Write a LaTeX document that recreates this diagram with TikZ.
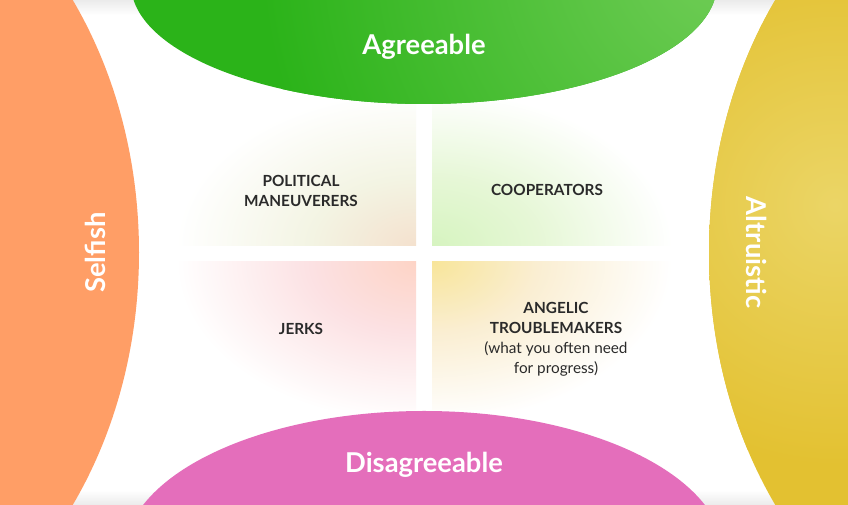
\documentclass[tikz,border=0pt]{standalone}
\usepackage{fontspec}
\setmainfont{Lato}
\definecolor{orangeC}{HTML}{FF9E66}
\definecolor{yellowD}{HTML}{E3C131}
\definecolor{yellowL}{HTML}{EBD566}
\definecolor{greenD}{HTML}{2BB319}
\definecolor{greenL}{HTML}{74CE5A}
\definecolor{pinkC}{HTML}{E46EBB}
\definecolor{edgegray}{HTML}{EBEBEB}
\definecolor{txt}{HTML}{2A2A2A}
\definecolor{tlA}{HTML}{F4E1CE}
\definecolor{tlB}{HTML}{F3F4E3}
\definecolor{trA}{HTML}{D6F4C0}
\definecolor{trB}{HTML}{E6F7D6}
\definecolor{blA}{HTML}{FDD4C6}
\definecolor{blB}{HTML}{FCE1E3}
\definecolor{brA}{HTML}{F8E59A}
\definecolor{brB}{HTML}{FAEED2}
\pgfdeclareradialshading{tlshade}{\pgfpoint{0bp}{0bp}}{color(0bp)=(tlA); color(11bp)=(tlB); color(25bp)=(white); color(50bp)=(white)}
\pgfdeclareradialshading{trshade}{\pgfpoint{0bp}{0bp}}{color(0bp)=(trA); color(11bp)=(trB); color(25bp)=(white); color(50bp)=(white)}
\pgfdeclareradialshading{blshade}{\pgfpoint{0bp}{0bp}}{color(0bp)=(blA); color(11bp)=(blB); color(25bp)=(white); color(50bp)=(white)}
\pgfdeclareradialshading{brshade}{\pgfpoint{0bp}{0bp}}{color(0bp)=(brA); color(11bp)=(brB); color(25bp)=(white); color(50bp)=(white)}
\tikzset{
  biglabel/.style={text=white, font=\bfseries\fontsize{20.5}{24}\selectfont, inner sep=0pt},
  qlabel/.style={text=txt, font=\bfseries\fontsize{11.5}{15}\selectfont, align=center, inner sep=0pt},
}
\begin{document}
\begin{tikzpicture}[x=0.75pt,y=0.75pt]
\useasboundingbox (0,0) rectangle (848,505);
\clip (0,0) rectangle (848,505);
\fill[white] (0,0) rectangle (848,505);
\shade[top color=edgegray, bottom color=white] (0,490) rectangle (848,505);
\shade[top color=white, bottom color=edgegray] (0,0) rectangle (848,15);
% quadrants
\begin{scope}
\clip (170,259) rectangle (416,405);
\shade[shading=tlshade] (416,259) ellipse [x radius=240, y radius=155];
\end{scope}
\begin{scope}
\clip (432,259) rectangle (680,405);
\shade[shading=trshade] (432,259) ellipse [x radius=240, y radius=155];
\end{scope}
\begin{scope}
\clip (170,95) rectangle (416,243);
\shade[shading=blshade] (416,243) ellipse [x radius=240, y radius=160];
\end{scope}
\begin{scope}
\clip (432,95) rectangle (680,243);
\shade[shading=brshade] (432,243) ellipse [x radius=240, y radius=160];
\end{scope}
% side shapes
\fill[orangeC] (-200,252.5) ellipse [x radius=339, y radius=425];
\begin{scope}
\clip (1048,252.5) ellipse [x radius=339, y radius=425];
\fill[yellowD] (700,0) rectangle (848,505);
\shade[inner color=yellowL, outer color=yellowD] (835,300) circle (260);
\end{scope}
\begin{scope}
\clip (424,521) ellipse [x radius=293, y radius=120];
\fill[greenD] (100,380) rectangle (760,505);
\shade[inner color=greenL, outer color=greenD] (740,560) circle (480);
\end{scope}
\fill[pinkC] (424,-51) ellipse [x radius=300, y radius=145];
% labels
\node[biglabel] (agree) at (424,458) {Agreeable};
\node[biglabel] (disagree) at (424,40) {Disagreeable};
\node[biglabel, rotate=90] (selfish) at (95,252.5) {Selfish};
\node[biglabel, rotate=-90] (altru) at (757,252.5) {Altruistic};
\node[qlabel] (pm) at (301,314) {POLITICAL\\MANEUVERERS};
\node[qlabel] (coop) at (547,315) {COOPERATORS};
\node[qlabel] (jerks) at (301,176) {JERKS};
\node[qlabel] (angel) at (556,166) {ANGELIC\\TROUBLEMAKERS\\{\mdseries (what you often need}\\{\mdseries for progress)}};
\end{tikzpicture}
\end{document}
